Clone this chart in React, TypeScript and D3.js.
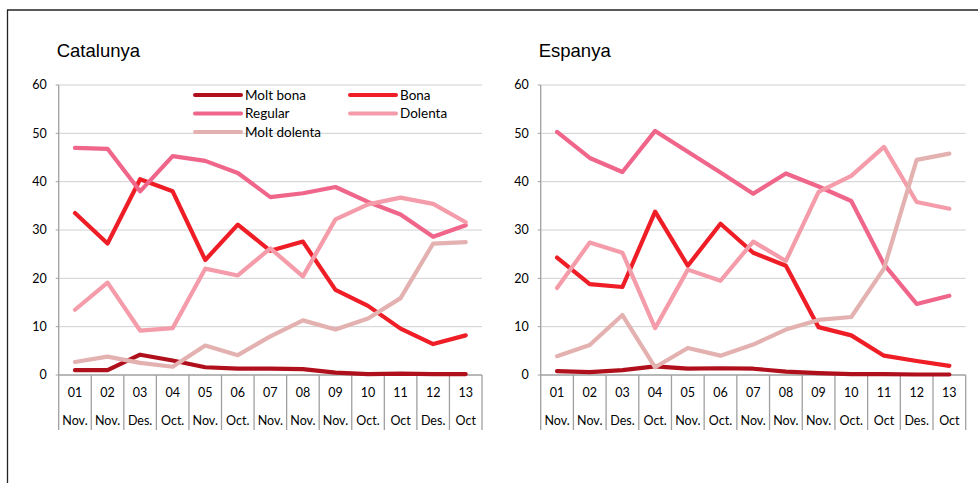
import React from "react";
import * as d3 from "d3";

const numLabels = ["01","02","03","04","05","06","07","08","09","10","11","12","13"];
const monthLabels = ["Nov.","Nov.","Des.","Oct.","Nov.","Oct.","Nov.","Nov.","Nov.","Oct.","Oct","Des.","Oct"];
const yTicks = [0,10,20,30,40,50,60];

const seriesNames = ["Molt bona","Bona","Regular","Dolenta","Molt dolenta"];
const seriesColors = ["#b0101c","#ee1d26","#f0668b","#f59caa","#e4b1b1"];

const catMoltBona = [1,1,4.2,3,1.6,1.3,1.3,1.2,0.5,0.2,0.3,0.2,0.2];
const catBona = [33.5,27.2,40.5,38,23.8,31.1,25.7,27.6,17.6,14.3,9.6,6.4,8.2];
const catRegular = [47,46.8,38,45.3,44.3,41.8,36.8,37.6,38.9,35.8,33.2,28.6,31];
const catDolenta = [13.5,19.1,9.2,9.7,22,20.6,26.2,20.4,32.2,35.3,36.7,35.4,31.6];
const catMoltDolenta = [2.7,3.8,2.5,1.7,6.1,4.1,8,11.3,9.4,11.7,15.9,27.2,27.5];

const espMoltBona = [0.8,0.6,1,1.8,1.3,1.4,1.3,0.7,0.4,0.2,0.2,0.1,0.1];
const espBona = [24.3,18.8,18.2,33.8,22.6,31.3,25.3,22.6,9.9,8.2,4,2.9,1.9];
const espRegular = [50.3,44.9,42,50.5,46.2,41.9,37.5,41.7,39,36,22.9,14.7,16.4];
const espDolenta = [18,27.4,25.3,9.7,21.8,19.5,27.6,23.6,37.9,41.2,47.2,35.8,34.4];
const espMoltDolenta = [3.9,6.2,12.4,1.6,5.6,4,6.3,9.4,11.4,12,22,44.5,45.8];

const FONT = "Lato, 'Liberation Sans', sans-serif";

function Panel({ title, x0, x1, series, legend }: { title: string; x0: number; x1: number; series: number[][]; legend: boolean }) {
  const y = d3.scaleLinear().domain([0, 60]).range([375, 85]);
  const band = d3.scaleBand<string>().domain(numLabels).range([x0, x1]).padding(0);
  const cx = (i: number) => (band(numLabels[i]) as number) + band.bandwidth() / 2;
  const bounds = numLabels.map((c) => band(c) as number).concat([x1]);
  return (
    <g>
      <text x={x0 - 2} y={57} fontFamily="'Liberation Sans', Arial, sans-serif" fontSize={18.5} fill="#000">{title}</text>
      {yTicks.map((t) => (
        <g key={t}>
          {t > 0 && <line x1={x0} x2={x1} y1={y(t)} y2={y(t)} stroke="#d0d0d0" strokeWidth={1} />}
          <line x1={x0 - 3} x2={x0} y1={y(t)} y2={y(t)} stroke="#a0a0a0" strokeWidth={1} />
          <text x={x0 - 12} y={y(t)} dy="0.35em" textAnchor="end" fontFamily={FONT} fontSize={12.5} fill="#000">{t}</text>
        </g>
      ))}
      <line x1={x0} x2={x0} y1={85} y2={375} stroke="#a0a0a0" strokeWidth={1.3} />
      <line x1={x0} x2={x1} y1={375} y2={375} stroke="#a0a0a0" strokeWidth={1.3} />
      {bounds.map((b, i) => (
        <line key={i} x1={b} x2={b} y1={375} y2={430} stroke="#a0a0a0" strokeWidth={1.3} />
      ))}
      {numLabels.map((c, i) => (
        <g key={c}>
          <text x={cx(i)} y={393} dy="0.35em" textAnchor="middle" fontFamily={FONT} fontSize={12.5} fill="#000">{c}</text>
          <text x={cx(i)} y={421} dy="0.35em" textAnchor="middle" fontFamily={FONT} fontSize={12.5} fill="#000">{monthLabels[i]}</text>
        </g>
      ))}
      {legend && (
        <g>
          {seriesNames.map((n, i) => {
            const col = i % 2;
            const row = Math.floor(i / 2);
            const lx = col === 0 ? 195 : 350;
            const ly = 95 + row * 18.5;
            return (
              <g key={n}>
                <line x1={lx} x2={lx + 46} y1={ly} y2={ly} stroke={seriesColors[i]} strokeWidth={4} strokeLinecap="round" />
                <text x={lx + 50} y={ly} dy="0.35em" fontFamily={FONT} fontSize={13.5} fill="#000">{n}</text>
              </g>
            );
          })}
        </g>
      )}
      {series.map((vals, si) => {
        const gen = d3.line<number>()
          .x((_, i) => cx(i))
          .y((v) => y(v))
          .curve(d3.curveLinear);
        return (
          <path key={si} d={gen(vals) || ""} fill="none" stroke={seriesColors[si]} strokeWidth={4.2} strokeLinejoin="round" strokeLinecap="round" />
        );
      })}
    </g>
  );
}

export default function App() {
  const catSeries = [catMoltBona, catBona, catRegular, catDolenta, catMoltDolenta];
  const espSeries = [espMoltBona, espBona, espRegular, espDolenta, espMoltDolenta];
  return (
    <svg width={978} height={483} style={{ position: "fixed", left: 0, top: 0, background: "#fff" }}>
      <rect x={0} y={0} width={978} height={483} fill="#fff" />
      <line x1={7.5} x2={7.5} y1={10} y2={483} stroke="#222" strokeWidth={1.3} />
      <line x1={7} x2={978} y1={10} y2={10} stroke="#222" strokeWidth={1.3} />
      <Panel title="Catalunya" x0={58.7} x1={482} series={catSeries} legend={true} />
      <Panel title="Espanya" x0={540.7} x1={965.7} series={espSeries} legend={false} />
    </svg>
  );
}
